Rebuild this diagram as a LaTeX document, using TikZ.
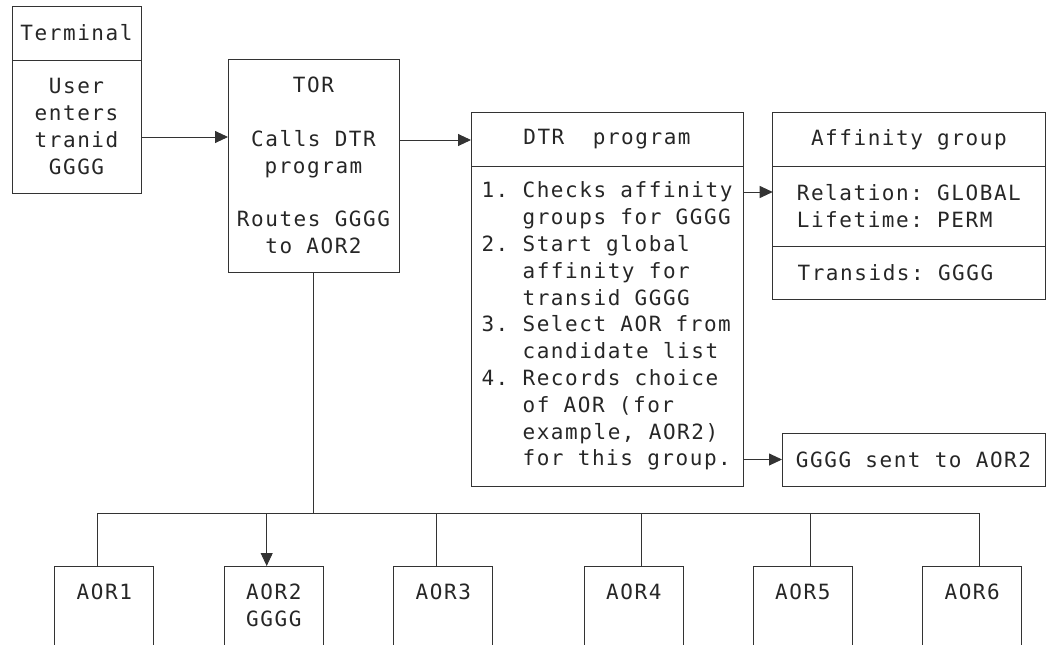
\documentclass[tikz,border=0pt]{standalone}
\usepackage{fontspec}
\newfontfamily\mono[LetterSpace=7.4]{DejaVu Sans Mono}
\usetikzlibrary{arrows.meta,calc}
\newcommand\tx{\mono\fontsize{21}{26.8}\selectfont\frenchspacing}
\begin{document}
\begin{tikzpicture}[x=1pt,y=-1pt,
  ln/.style={draw=black!80,line width=0.9pt},
  bx/.style={ln,rectangle,inner sep=0pt,outer sep=0pt,font=\tx,text=black!85},
  tx/.style={font=\tx,text=black!85,inner sep=0pt},
  arr/.style={ln,-{Triangle[length=13pt,width=12pt]}}]
\useasboundingbox (0,0) rectangle (1052,645);
\clip (0,0) rectangle (1052,645);
% Terminal
\node[bx,minimum width=129,minimum height=54] (termh) at (76.5,33) {Terminal};
\node[bx,minimum width=129,minimum height=133,align=center] (termb) at (76.5,126.5) {User\\enters\\tranid\\GGGG};
% TOR
\node[bx,minimum width=171,minimum height=213,align=center] (tor) at (313.5,165.5)
  {TOR\\\mbox{}\\Calls DTR\\program\\\mbox{}\\Routes GGGG\\to AOR2};
% DTR program
\node[bx,minimum width=272,minimum height=54] (dtrh) at (607,139.5) {DTR\ \ program};
\node[bx,minimum width=272,minimum height=319.5,align=left] (dtrb) at (607,326.25)
  {1. Checks affinity\\\hphantom{1. }groups for GGGG\\2. Start global\\\hphantom{2. }affinity for\\\hphantom{2. }transid GGGG\\3. Select AOR from\\\hphantom{3. }candidate list\\4. Records choice\\\hphantom{4. }of AOR (for\\\hphantom{4. }example, AOR2)\\\hphantom{4. }for this group.};
% Affinity group
\node[bx,minimum width=272.3,minimum height=53.8] (affh) at (908.85,139.6) {Affinity group};
\node[bx,minimum width=272.3,minimum height=79.5,align=left] (affm) at (908.85,206.25) {Relation: GLOBAL\\Lifetime: PERM};
\node[bx,minimum width=272.3,minimum height=53.3,align=center] (affb) at (908.85,272.65) {Transids: GGGG\hphantom{GG}};
% GGGG sent
\node[bx,minimum width=263,minimum height=53] (sent) at (913.5,459.5) {GGGG sent to AOR2};
% arrows
\coordinate (y1) at (0,137);
\coordinate (y2) at (0,140);
\coordinate (y3) at (0,192);
\draw[arr] (termb.east |- y1) -- (tor.west |- y1);
\draw[arr] (tor.east |- y2) -- (dtrh.west |- y2);
\draw[arr] (dtrb.east |- y3) -- (affm.west |- y3);
\draw[arr] (dtrb.east |- sent.west) -- (sent.west);
% AOR boxes
\foreach \i/\cx in {1/104.3,2/273.8,3/443.3,4/633.8,5/802.8,6/972.2}{
  \node[bx,minimum width=99,minimum height=120,anchor=north] (aor\i) at (\cx,566) {};
}
\node[tx,anchor=north] (l1) at ($(aor1.north)+(0,18)$) {AOR1};
\node[tx,anchor=north,align=center] (l2) at ($(aor2.north)+(0,18)$) {AOR2\\GGGG};
\node[tx,anchor=north] (l3) at ($(aor3.north)+(0,18)$) {AOR3};
\node[tx,anchor=north] (l4) at ($(aor4.north)+(0,18)$) {AOR4};
\node[tx,anchor=north] (l5) at ($(aor5.north)+(0,18)$) {AOR5};
\node[tx,anchor=north] (l6) at ($(aor6.north)+(0,18)$) {AOR6};
% bus
\coordinate (c1) at (97.3,513);
\coordinate (c2) at (266.7,513);
\coordinate (c3) at (436.3,513);
\coordinate (c4) at (641,513);
\coordinate (c5) at (810,513);
\coordinate (c6) at (979.3,513);
\draw[ln] (tor.south) -- (tor.south |- c1);
\draw[ln] (c1) -- (c6);
\draw[ln] (c1) -- (c1 |- aor1.north);
\draw[arr] (c2) -- (c2 |- aor2.north);
\draw[ln] (c3) -- (c3 |- aor3.north);
\draw[ln] (c4) -- (c4 |- aor4.north);
\draw[ln] (c5) -- (c5 |- aor5.north);
\draw[ln] (c6) -- (c6 |- aor6.north);
\end{tikzpicture}
\end{document}
